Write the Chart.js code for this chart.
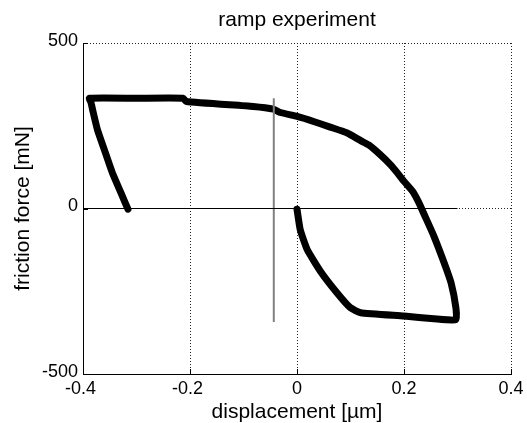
<!DOCTYPE html>
<html>
<head>
<meta charset="utf-8">
<script src="https://cdn.jsdelivr.net/npm/chart.js@4/dist/chart.umd.min.js"></script>
<style>
html,body{margin:0;padding:0;background:#fff;}
#wrap{width:527px;height:423px;}
</style>
</head>
<body>
<div id="wrap"><canvas id="c" width="527" height="423"></canvas></div>
<script>
const chartTitle = 'ramp experiment';
const xAxisTitle = 'displacement [µm]';
const yAxisTitle = 'friction force [mN]';
const xTicks = [-0.4, -0.2, 0, 0.2, 0.4];
const yTicks = [-500, 0, 500];

// hysteresis loop (displacement in µm, friction force in mN)
const loopX = [0, 0.006, 0.019, 0.044, 0.075, 0.100, 0.119, 0.200, 0.256, 0.297,
  0.297, 0.288, 0.275, 0.256, 0.238, 0.228, 0.216, 0.200, 0.188, 0.175, 0.156, 0.134, 0.119, 0.094, 0.062, 0.031, 0, -0.031, -0.044, -0.082, -0.207, -0.213, -0.300, -0.388,
  -0.385, -0.382, -0.373, -0.360, -0.345, -0.329, -0.316];
const loopY = [-2, -64, -124, -190, -255, -300, -315, -325, -333, -336,
  -300, -225, -164, -84, -19, 17, 52, 82, 107, 132, 162, 192, 205, 228, 246, 263, 278, 290, 300, 308, 323, 333, 333, 333,
  320, 298, 238, 177, 107, 47, -2];

// reference lines
const zeroLineX = [-0.4, 0.3];
const zeroLineY = [0, 0];
const markerLineX = [-0.0434, -0.0434];
const markerLineY = [-343, 333];

const toPts = (xs, ys) => xs.map((v, i) => ({x: v, y: ys[i]}));
const FONT = "'Liberation Sans', Arial, Helvetica, sans-serif";

const innerTicks = {
  id: 'innerTicks',
  beforeDatasetsDraw(chart) {
    const {ctx, chartArea: a, scales: {x, y}} = chart;
    ctx.save();
    ctx.strokeStyle = '#000';
    ctx.lineWidth = 1;
    ctx.beginPath();
    x.ticks.forEach(t => {
      const px = Math.round(x.getPixelForValue(t.value)) + 0.5;
      ctx.moveTo(px, a.bottom);
      ctx.lineTo(px, a.bottom - 5);
    });
    y.ticks.forEach(t => {
      const py = Math.round(y.getPixelForValue(t.value)) + 0.5;
      ctx.moveTo(a.left, py);
      ctx.lineTo(a.left + 5, py);
    });
    ctx.stroke();
    ctx.restore();
  }
};

new Chart(document.getElementById('c'), {
  type: 'scatter',
  data: {
    datasets: [
      {data: toPts(zeroLineX, zeroLineY), showLine: true, borderColor: '#000', borderWidth: 1, pointRadius: 0},
      {data: toPts(markerLineX, markerLineY), showLine: true, borderColor: '#808080', borderWidth: 2, pointRadius: 0},
      {data: toPts(loopX, loopY), showLine: true, borderColor: '#000', borderWidth: 7, pointRadius: 0,
       borderJoinStyle: 'round', borderCapStyle: 'round', tension: 0.15}
    ]
  },
  options: {
    responsive: false,
    animation: false,
    devicePixelRatio: 1,
    layout: {padding: {left: 0, right: 16, top: 0, bottom: 0}},
    plugins: {legend: {display: false}, tooltip: {enabled: false}, title: {display: false}},
    scales: {
      x: {
        type: 'linear', position: 'bottom', min: -0.4, max: 0.4,
        afterBuildTicks: s => { s.ticks = xTicks.map(v => ({value: v})); },
        afterFit: s => { s.height = 49; s.paddingLeft = 0; s.paddingRight = 0; },
        grid: {color: '#222', lineWidth: 1, drawTicks: false},
        border: {display: true, color: '#000', width: 1, dash: [1, 2]},
        ticks: {
          padding: 4, color: '#000', maxRotation: 0, autoSkip: false,
          font: {family: FONT, size: 18},
          callback: v => (v < 0 ? String(v) + ' ' : String(v))
        },
        title: {display: true, text: xAxisTitle, color: '#000',
          font: {family: FONT, size: 21, lineHeight: 1}, padding: {top: 0, bottom: 0}}
      },
      x2: {
        type: 'linear', position: 'top', min: -0.4, max: 0.4,
        afterFit: s => { s.height = 43; s.paddingLeft = 0; s.paddingRight = 0; },
        grid: {display: false, drawTicks: false},
        border: {display: false},
        ticks: {display: false},
        title: {display: true, text: chartTitle, color: '#000',
          font: {family: FONT, size: 21, lineHeight: 1}, padding: {top: 9.7, bottom: 0}}
      },
      y: {
        type: 'linear', position: 'left', min: -500, max: 500,
        afterBuildTicks: s => { s.ticks = yTicks.map(v => ({value: v})); },
        afterFit: s => { s.width = 83; s.paddingTop = 0; s.paddingBottom = 0; },
        grid: {color: '#222', lineWidth: 1, drawTicks: false},
        border: {display: true, color: '#000', width: 1, dash: [1, 2]},
        ticks: {
          padding: 5, color: '#000', labelOffset: -2,
          font: {family: FONT, size: 18},
          callback: v => String(v)
        },
        title: {display: true, text: yAxisTitle, color: '#000',
          font: {family: FONT, size: 21, lineHeight: 1}, padding: {top: 13, bottom: 0}}
      }
    }
  },
  plugins: [innerTicks]
});
</script>
</body>
</html>
